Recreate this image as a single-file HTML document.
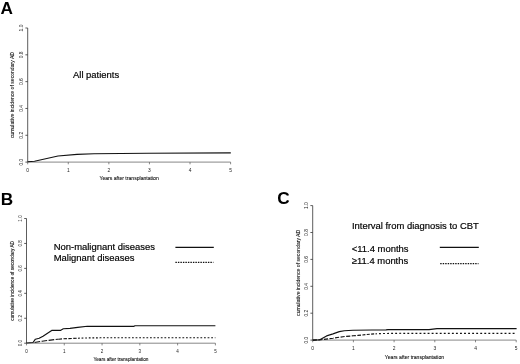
<!DOCTYPE html>
<html><head><meta charset="utf-8"><title>Cumulative incidence of secondary AD</title>
<style>
html,body{margin:0;padding:0;background:#fff;}
svg{display:block;filter:blur(0.3px);font-family:"Liberation Sans",Arial,sans-serif;}
.pl{font-size:17.2px;font-weight:bold;fill:#000;}
.lg{font-size:9.45px;fill:#000;stroke:#000;stroke-width:0.18;}
.tk{font-size:4.9px;fill:#222;}
.lb{font-size:5.1px;fill:#111;stroke:#111;stroke-width:0.1;}
.ax{stroke:#333;stroke-width:0.8;fill:none;}
.axx{stroke:#555;stroke-width:0.7;fill:none;}
.cv{stroke:#111;stroke-width:1.15;fill:none;stroke-linejoin:round;}
</style></head><body>
<svg width="520" height="364" viewBox="0 0 520 364">
<rect width="520" height="364" fill="#fff"/>
<text x="0.6" y="14.2" class="pl">A</text>
<path d="M27.7 28V162.1" class="ax"/>
<path d="M27.7 162.1H230.6" class="axx"/>
<path d="M27.70 162.1v2.2" class="axx"/>
<text x="27.70" y="172.3" class="tk" style="font-size:4.90px" text-anchor="middle">0</text>
<path d="M68.28 162.1v2.2" class="axx"/>
<text x="68.28" y="172.3" class="tk" style="font-size:4.90px" text-anchor="middle">1</text>
<path d="M108.86 162.1v2.2" class="axx"/>
<text x="108.86" y="172.3" class="tk" style="font-size:4.90px" text-anchor="middle">2</text>
<path d="M149.44 162.1v2.2" class="axx"/>
<text x="149.44" y="172.3" class="tk" style="font-size:4.90px" text-anchor="middle">3</text>
<path d="M190.02 162.1v2.2" class="axx"/>
<text x="190.02" y="172.3" class="tk" style="font-size:4.90px" text-anchor="middle">4</text>
<path d="M230.60 162.1v2.2" class="axx"/>
<text x="230.60" y="172.3" class="tk" style="font-size:4.90px" text-anchor="middle">5</text>
<path d="M27.7 162.10h-2.3" class="ax"/>
<text transform="translate(22.6 162.10) rotate(-90)" class="tk" style="font-size:4.90px" text-anchor="middle">0.0</text>
<path d="M27.7 135.28h-2.3" class="ax"/>
<text transform="translate(22.6 135.28) rotate(-90)" class="tk" style="font-size:4.90px" text-anchor="middle">0.2</text>
<path d="M27.7 108.46h-2.3" class="ax"/>
<text transform="translate(22.6 108.46) rotate(-90)" class="tk" style="font-size:4.90px" text-anchor="middle">0.4</text>
<path d="M27.7 81.64h-2.3" class="ax"/>
<text transform="translate(22.6 81.64) rotate(-90)" class="tk" style="font-size:4.90px" text-anchor="middle">0.6</text>
<path d="M27.7 54.82h-2.3" class="ax"/>
<text transform="translate(22.6 54.82) rotate(-90)" class="tk" style="font-size:4.90px" text-anchor="middle">0.8</text>
<path d="M27.7 28.00h-2.3" class="ax"/>
<text transform="translate(22.6 28.00) rotate(-90)" class="tk" style="font-size:4.90px" text-anchor="middle">1.0</text>
<text x="129.15" y="180.1" class="lb" style="font-size:5.10px" text-anchor="middle">Years after transplantation</text>
<text transform="translate(14.1 95.05) rotate(-90)" class="lb" style="font-size:5.10px" text-anchor="middle">cumulative incidence of secondary AD</text>
<path class="cv" d="M27.7 161.8L34.5 161.3L58 156L77 154.4L94 153.7L148 153.2L230.8 152.9"/>
<text x="73" y="78.1" class="lg">All patients</text>
<text x="0.7" y="204.7" class="pl">B</text>
<path d="M26.5 218.5V343.2" class="ax"/>
<path d="M26.5 343.2H215.4" class="axx"/>
<path d="M26.50 343.2v2.2" class="axx"/>
<text x="26.50" y="352.6" class="tk" style="font-size:4.56px" text-anchor="middle">0</text>
<path d="M64.28 343.2v2.2" class="axx"/>
<text x="64.28" y="352.6" class="tk" style="font-size:4.56px" text-anchor="middle">1</text>
<path d="M102.06 343.2v2.2" class="axx"/>
<text x="102.06" y="352.6" class="tk" style="font-size:4.56px" text-anchor="middle">2</text>
<path d="M139.84 343.2v2.2" class="axx"/>
<text x="139.84" y="352.6" class="tk" style="font-size:4.56px" text-anchor="middle">3</text>
<path d="M177.62 343.2v2.2" class="axx"/>
<text x="177.62" y="352.6" class="tk" style="font-size:4.56px" text-anchor="middle">4</text>
<path d="M215.40 343.2v2.2" class="axx"/>
<text x="215.40" y="352.6" class="tk" style="font-size:4.56px" text-anchor="middle">5</text>
<path d="M26.5 343.20h-2.3" class="ax"/>
<text transform="translate(21.6 343.20) rotate(-90)" class="tk" style="font-size:4.56px" text-anchor="middle">0.0</text>
<path d="M26.5 318.26h-2.3" class="ax"/>
<text transform="translate(21.6 318.26) rotate(-90)" class="tk" style="font-size:4.56px" text-anchor="middle">0.2</text>
<path d="M26.5 293.32h-2.3" class="ax"/>
<text transform="translate(21.6 293.32) rotate(-90)" class="tk" style="font-size:4.56px" text-anchor="middle">0.4</text>
<path d="M26.5 268.38h-2.3" class="ax"/>
<text transform="translate(21.6 268.38) rotate(-90)" class="tk" style="font-size:4.56px" text-anchor="middle">0.6</text>
<path d="M26.5 243.44h-2.3" class="ax"/>
<text transform="translate(21.6 243.44) rotate(-90)" class="tk" style="font-size:4.56px" text-anchor="middle">0.8</text>
<path d="M26.5 218.50h-2.3" class="ax"/>
<text transform="translate(21.6 218.50) rotate(-90)" class="tk" style="font-size:4.56px" text-anchor="middle">1.0</text>
<text x="120.95" y="360.5" class="lb" style="font-size:4.74px" text-anchor="middle">Years after transplantation</text>
<text transform="translate(13.8 280.85) rotate(-90)" class="lb" style="font-size:4.74px" text-anchor="middle">cumulative incidence of secondary AD</text>
<path class="cv" d="M26.5 343L33 342.5L35.4 339.2L39.2 338.2L43 336.2L51.7 330.4L60.4 330.4L63.3 328.8L70 328.4L77.7 327.4L87.3 326.3L134 326.3L135 325.7L215.4 325.7"/>
<path class="cv" style="stroke-dasharray:5.6 1.5" d="M34.6 342.5L35.8 342.2L42 341.2L48 340.4L57.3 339.3L58.6 339.2"/>
<path class="cv" style="stroke-dasharray:3.4 1.5" d="M58.6 339.2L63.5 338.8L78 338.2"/>
<path class="cv" style="stroke-dasharray:1.8 1.8" d="M78 338.2L83.5 338L100 337.8L215.4 337.7"/>
<text x="53.7" y="249.5" class="lg">Non-malignant diseases</text>
<text x="53.7" y="261.2" class="lg">Malignant diseases</text>
<path class="cv" d="M175.4 247.3H213.8"/>
<path class="cv" style="stroke-dasharray:1.45 1.05" d="M175.4 262.4H213.4"/>
<text x="277.2" y="204.4" class="pl">C</text>
<path d="M312.7 205.6V340.1" class="ax"/>
<path d="M312.7 340.1H516.2" class="axx"/>
<path d="M312.70 340.1v2.2" class="axx"/>
<text x="312.70" y="349.8" class="tk" style="font-size:4.90px" text-anchor="middle">0</text>
<path d="M353.40 340.1v2.2" class="axx"/>
<text x="353.40" y="349.8" class="tk" style="font-size:4.90px" text-anchor="middle">1</text>
<path d="M394.10 340.1v2.2" class="axx"/>
<text x="394.10" y="349.8" class="tk" style="font-size:4.90px" text-anchor="middle">2</text>
<path d="M434.80 340.1v2.2" class="axx"/>
<text x="434.80" y="349.8" class="tk" style="font-size:4.90px" text-anchor="middle">3</text>
<path d="M475.50 340.1v2.2" class="axx"/>
<text x="475.50" y="349.8" class="tk" style="font-size:4.90px" text-anchor="middle">4</text>
<path d="M516.20 340.1v2.2" class="axx"/>
<text x="516.20" y="349.8" class="tk" style="font-size:4.90px" text-anchor="middle">5</text>
<path d="M312.7 340.10h-2.3" class="ax"/>
<text transform="translate(307.7 340.10) rotate(-90)" class="tk" style="font-size:4.90px" text-anchor="middle">0.0</text>
<path d="M312.7 313.20h-2.3" class="ax"/>
<text transform="translate(307.7 313.20) rotate(-90)" class="tk" style="font-size:4.90px" text-anchor="middle">0.2</text>
<path d="M312.7 286.30h-2.3" class="ax"/>
<text transform="translate(307.7 286.30) rotate(-90)" class="tk" style="font-size:4.90px" text-anchor="middle">0.4</text>
<path d="M312.7 259.40h-2.3" class="ax"/>
<text transform="translate(307.7 259.40) rotate(-90)" class="tk" style="font-size:4.90px" text-anchor="middle">0.6</text>
<path d="M312.7 232.50h-2.3" class="ax"/>
<text transform="translate(307.7 232.50) rotate(-90)" class="tk" style="font-size:4.90px" text-anchor="middle">0.8</text>
<path d="M312.7 205.60h-2.3" class="ax"/>
<text transform="translate(307.7 205.60) rotate(-90)" class="tk" style="font-size:4.90px" text-anchor="middle">1.0</text>
<text x="414.45" y="358.8" class="lb" style="font-size:5.10px" text-anchor="middle">Years after transplantation</text>
<text transform="translate(299.5 272.85) rotate(-90)" class="lb" style="font-size:5.10px" text-anchor="middle">cumulative incidence of secondary AD</text>
<path class="cv" d="M312.8 340.1L319.8 339.8L326.6 335.9L333 333.9L339.3 331.6L344.4 330.7L353 330.3L372 330L386 329.9L388 329.6L429 329.6L437 328.6L516.6 328.6"/>
<path class="cv" style="stroke-dasharray:4.1 1.5" d="M312.8 340.1L321 339.7L333 338.2L343 336.7L353.2 335.8L358 335.4"/>
<path class="cv" style="stroke-dasharray:3 1.4" d="M358 335.4L366 334.6L377 333.7"/>
<path class="cv" style="stroke-dasharray:1.9 2.15" d="M379 333.6L390 333.4L400 333.3L516.6 333.3"/>
<text x="351.9" y="229.3" class="lg">Interval from diagnosis to CBT</text>
<text x="351.8" y="252.4" class="lg">&lt;11.4 months</text>
<text x="351.8" y="264.1" class="lg">≥11.4 months</text>
<path class="cv" d="M439.8 247.3H478.8"/>
<path class="cv" style="stroke-dasharray:1.45 1.05" d="M440.2 263.6H478.5"/>
</svg>
</body></html>
